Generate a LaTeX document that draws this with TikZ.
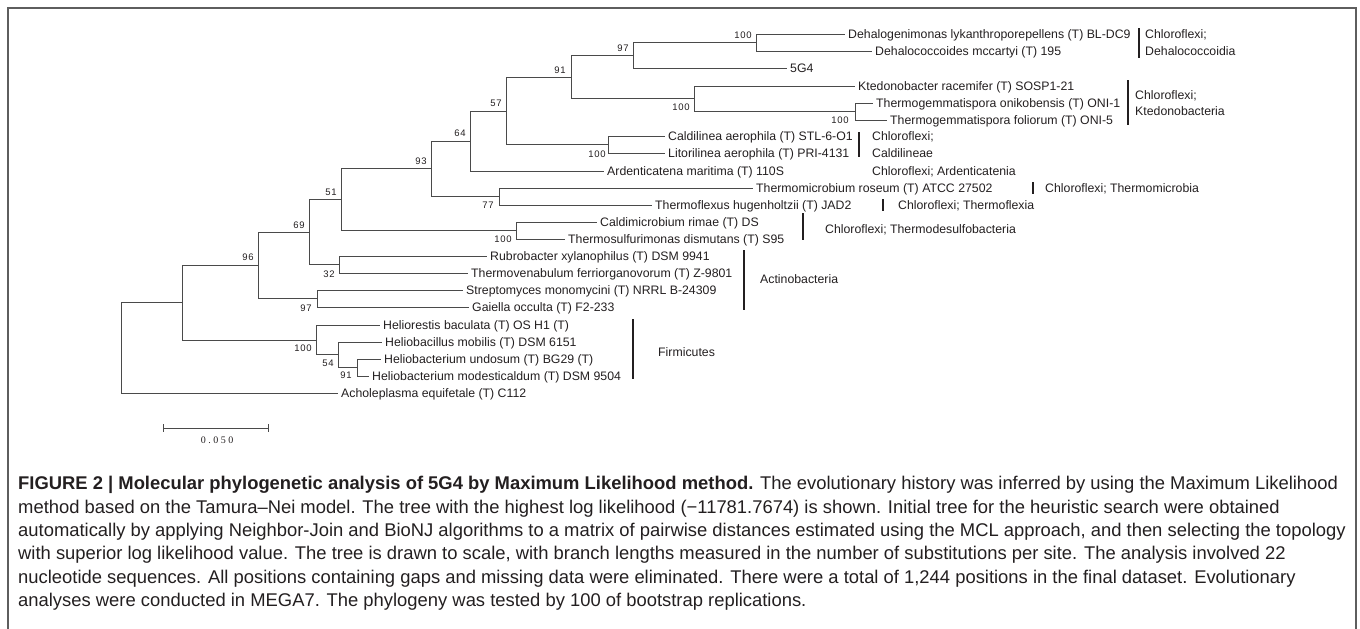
\documentclass[tikz,border=0pt]{standalone}
\usepackage{fontspec}
\setmainfont{Liberation Sans}
\newfontfamily\capfont{Liberation Sans}
\newfontfamily\bootfont[LetterSpace=8]{Liberation Sans}
\newfontfamily\scalebarfont[LetterSpace=25]{Liberation Serif}
\usepackage{xcolor}
\definecolor{clBranch}{HTML}{4A4A4A}
\definecolor{clText}{HTML}{231F20}
\definecolor{clFrame}{HTML}{5E5E5E}
\usetikzlibrary{positioning,calc}
\tikzset{
  branch/.style={draw=clBranch, line width=1pt},
  taxon/.style={anchor=west, inner xsep=3pt, inner ysep=0pt, text height=8.7pt,
                text depth=0pt, font=\fontsize{12.3}{14}\selectfont, text=clText},
  clade/.style={taxon},
  cladebar/.style={draw=clText, line width=1.3pt},
  boot/.style={font=\bootfont\fontsize{9.5}{10}\selectfont, inner sep=0pt, text=clText},
  caption/.style={anchor=base west, inner sep=0pt,
                  font=\capfont\fontsize{18.4}{23.5}\selectfont, text=clText},
}

\begin{document}
\begin{tikzpicture}[x=1pt, y=-1pt]
  \useasboundingbox (0,0) rectangle (1360,629);
  \draw[clFrame, line width=1.5pt] (8,629) -- (8,8) -- (1356,8) -- (1356,629);

  % internal nodes (x of split, y of incoming branch)
  \coordinate (nRoot) at (121,347.75);
  \coordinate (nIn)   at (182,302.5);
  \coordinate (n96)   at (258,265);
  \coordinate (n69)   at (309,232);
  \coordinate (n51)   at (341,199.5);
  \coordinate (n93)   at (431,168.5);
  \coordinate (n64)   at (470,141);
  \coordinate (n57)   at (506,111);
  \coordinate (n91)   at (571,77);
  \coordinate (n97)   at (633,55);
  \coordinate (nDeh)  at (756,42.5);
  \coordinate (nKte)  at (694,98.5);
  \coordinate (nThg)  at (855,111.5);
  \coordinate (nCal)  at (608,144.5);
  \coordinate (n77)   at (499,196.5);
  \coordinate (nCdm)  at (516,230.5);
  \coordinate (n32)   at (339,264.5);
  \coordinate (nStr)  at (317,298.5);
  \coordinate (nHel)  at (316,340);
  \coordinate (n54)   at (338,354.75);
  \coordinate (nHbt)  at (357,367.5);

  % taxa
  \node[taxon] (tDhg) at (845,34)  {Dehalogenimonas lykanthroporepellens (T) BL-DC9};
  \node[taxon] (tDhc) at (872,51)  {Dehalococcoides mccartyi (T) 195};
  \node[taxon] (t5G4) at (787,68)  {5G4};
  \node[taxon] (tKte) at (855,86)  {Ktedonobacter racemifer (T) SOSP1-21};
  \node[taxon] (tThO) at (873,103) {Thermogemmatispora onikobensis (T) ONI-1};
  \node[taxon] (tThF) at (887,120) {Thermogemmatispora foliorum (T) ONI-5};
  \node[taxon] (tCal) at (665,136) {Caldilinea aerophila (T) STL-6-O1};
  \node[taxon] (tLit) at (665,153) {Litorilinea aerophila (T) PRI-4131};
  \node[taxon] (tArd) at (604,171) {Ardenticatena maritima (T) 110S};
  \node[taxon] (tTmr) at (753,188) {Thermomicrobium roseum (T) ATCC 27502};
  \node[taxon] (tTfx) at (652,205) {Thermoflexus hugenholtzii (T) JAD2};
  \node[taxon] (tCdm) at (597,222) {Caldimicrobium rimae (T) DS};
  \node[taxon] (tTsf) at (565,239) {Thermosulfurimonas dismutans (T) S95};
  \node[taxon] (tRub) at (487,256) {Rubrobacter xylanophilus (T) DSM 9941};
  \node[taxon] (tTvn) at (468,273) {Thermovenabulum ferriorganovorum (T) Z-9801};
  \node[taxon] (tStr) at (463,290) {Streptomyces monomycini (T) NRRL B-24309};
  \node[taxon] (tGai) at (469,307) {Gaiella occulta (T) F2-233};
  \node[taxon] (tHrs) at (380,325) {Heliorestis baculata (T) OS H1 (T)};
  \node[taxon] (tHbc) at (382,342) {Heliobacillus mobilis (T) DSM 6151};
  \node[taxon] (tHun) at (381,359) {Heliobacterium undosum (T) BG29 (T)};
  \node[taxon] (tHmo) at (369,376) {Heliobacterium modesticaldum (T) DSM 9504};
  \node[taxon] (tAch) at (338,393) {Acholeplasma equifetale (T) C112};

  % branches
  \draw[branch] (nRoot) |- (nIn);  \draw[branch] (nRoot) |- (tAch.west);
  \draw[branch] (nIn) |- (n96);    \draw[branch] (nIn) |- (nHel);
  \draw[branch] (n96) |- (n69);    \draw[branch] (n96) |- (nStr);
  \draw[branch] (n69) |- (n51);    \draw[branch] (n69) |- (n32);
  \draw[branch] (n51) |- (n93);    \draw[branch] (n51) |- (nCdm);
  \draw[branch] (n93) |- (n64);    \draw[branch] (n93) |- (n77);
  \draw[branch] (n64) |- (n57);    \draw[branch] (n64) |- (tArd.west);
  \draw[branch] (n57) |- (n91);    \draw[branch] (n57) |- (nCal);
  \draw[branch] (n91) |- (n97);    \draw[branch] (n91) |- (nKte);
  \draw[branch] (n97) |- (nDeh);   \draw[branch] (n97) |- (t5G4.west);
  \draw[branch] (nDeh) |- (tDhg.west); \draw[branch] (nDeh) |- (tDhc.west);
  \draw[branch] (nKte) |- (tKte.west); \draw[branch] (nKte) |- (nThg);
  \draw[branch] (nThg) |- (tThO.west); \draw[branch] (nThg) |- (tThF.west);
  \draw[branch] (nCal) |- (tCal.west); \draw[branch] (nCal) |- (tLit.west);
  \draw[branch] (n77) |- (tTmr.west);  \draw[branch] (n77) |- (tTfx.west);
  \draw[branch] (nCdm) |- (tCdm.west); \draw[branch] (nCdm) |- (tTsf.west);
  \draw[branch] (n32) |- (tRub.west);  \draw[branch] (n32) |- (tTvn.west);
  \draw[branch] (nStr) |- (tStr.west); \draw[branch] (nStr) |- (tGai.west);
  \draw[branch] (nHel) |- (tHrs.west); \draw[branch] (nHel) |- (n54);
  \draw[branch] (n54) |- (tHbc.west);  \draw[branch] (n54) |- (nHbt);
  \draw[branch] (nHbt) |- (tHun.west); \draw[branch] (nHbt) |- (tHmo.west);

  % bootstrap values
  \node[boot] (bDeh) at (743,35)  {100};
  \node[boot] (b97)  at (623,48)  {97};
  \node[boot] (b91)  at (560,70)  {91};
  \node[boot] (b57)  at (496,103) {57};
  \node[boot] (b64)  at (460,133) {64};
  \node[boot] (b93)  at (421,161) {93};
  \node[boot] (b51)  at (331,192) {51};
  \node[boot] (b69)  at (299,225) {69};
  \node[boot] (b96)  at (248,257) {96};
  \node[boot] (bKte) at (681,107) {100};
  \node[boot] (bThg) at (840,120) {100};
  \node[boot] (bCal) at (597,154) {100};
  \node[boot] (b77)  at (488,205) {77};
  \node[boot] (bCdm) at (503,239) {100};
  \node[boot] (b32)  at (329,274) {32};
  \node[boot] (bStr) at (306,308) {97};
  \node[boot] (bHel) at (303,348) {100};
  \node[boot] (b54)  at (328,363) {54};
  \node[boot] (bHbt) at (346,375) {91};

  % clade bars and names
  \draw[cladebar] (1139,28) -- (1139,58);
  \node[clade] (cDeh1) at (1142,34) {Chloroflexi;};
  \node[clade] (cDeh2) at (1142,51) {Dehalococcoidia};
  \draw[cladebar] (1128,80) -- (1128,125);
  \node[clade] (cKte1) at (1132,95)  {Chloroflexi;};
  \node[clade] (cKte2) at (1132,111) {Ktedonobacteria};
  \draw[cladebar] (859,132) -- (859,157);
  \node[clade] (cCal1) at (869,136) {Chloroflexi;};
  \node[clade] (cCal2) at (869,153) {Caldilineae};
  \node[clade] (cArd)  at (869,171) {Chloroflexi; Ardenticatenia};
  \draw[cladebar] (1033,182) -- (1033,194);
  \node[clade] (cTmr) at (1042,188) {Chloroflexi; Thermomicrobia};
  \draw[cladebar] (883,199) -- (883,211);
  \node[clade] (cTfx) at (895,205) {Chloroflexi; Thermoflexia};
  \draw[cladebar] (803,213) -- (803,240);
  \node[clade] (cTds) at (822,229) {Chloroflexi; Thermodesulfobacteria};
  \draw[cladebar] (744,250) -- (744,310);
  \node[clade] (cAct) at (757,279) {Actinobacteria};
  \draw[cladebar] (633,319) -- (633,379);
  \node[clade] (cFir) at (655,352) {Firmicutes};

  % scale bar
  \coordinate (sbL) at (163,428);
  \coordinate (sbR) at (268,428);
  \draw[branch] (sbL) -- (sbR);
  \draw[branch] ($(sbL)+(0,-4)$) -- ($(sbL)+(0,4)$);
  \draw[branch] ($(sbR)+(0,-4)$) -- ($(sbR)+(0,4)$);
  \node[font=\scalebarfont\fontsize{10}{11}\selectfont, text=clText] (sbLabel) at (217,440) {0.050};

  % caption
  \node[caption] (cap1) at (18,489) {\textbf{FIGURE 2 | Molecular phylogenetic analysis of 5G4 by Maximum Likelihood method.} The evolutionary history was inferred by using the Maximum Likelihood};
  \node[caption] (cap2) at (18,513) {method based on the Tamura–Nei model. The tree with the highest log likelihood (−11781.7674) is shown. Initial tree for the heuristic search were obtained};
  \node[caption] (cap3) at (18,536) {automatically by applying Neighbor-Join and BioNJ algorithms to a matrix of pairwise distances estimated using the MCL approach, and then selecting the topology};
  \node[caption] (cap4) at (18,559) {with superior log likelihood value. The tree is drawn to scale, with branch lengths measured in the number of substitutions per site. The analysis involved 22};
  \node[caption] (cap5) at (18,583) {nucleotide sequences. All positions containing gaps and missing data were eliminated. There were a total of 1,244 positions in the final dataset. Evolutionary};
  \node[caption] (cap6) at (18,606) {analyses were conducted in MEGA7. The phylogeny was tested by 100 of bootstrap replications.};
\end{tikzpicture}
\end{document}
